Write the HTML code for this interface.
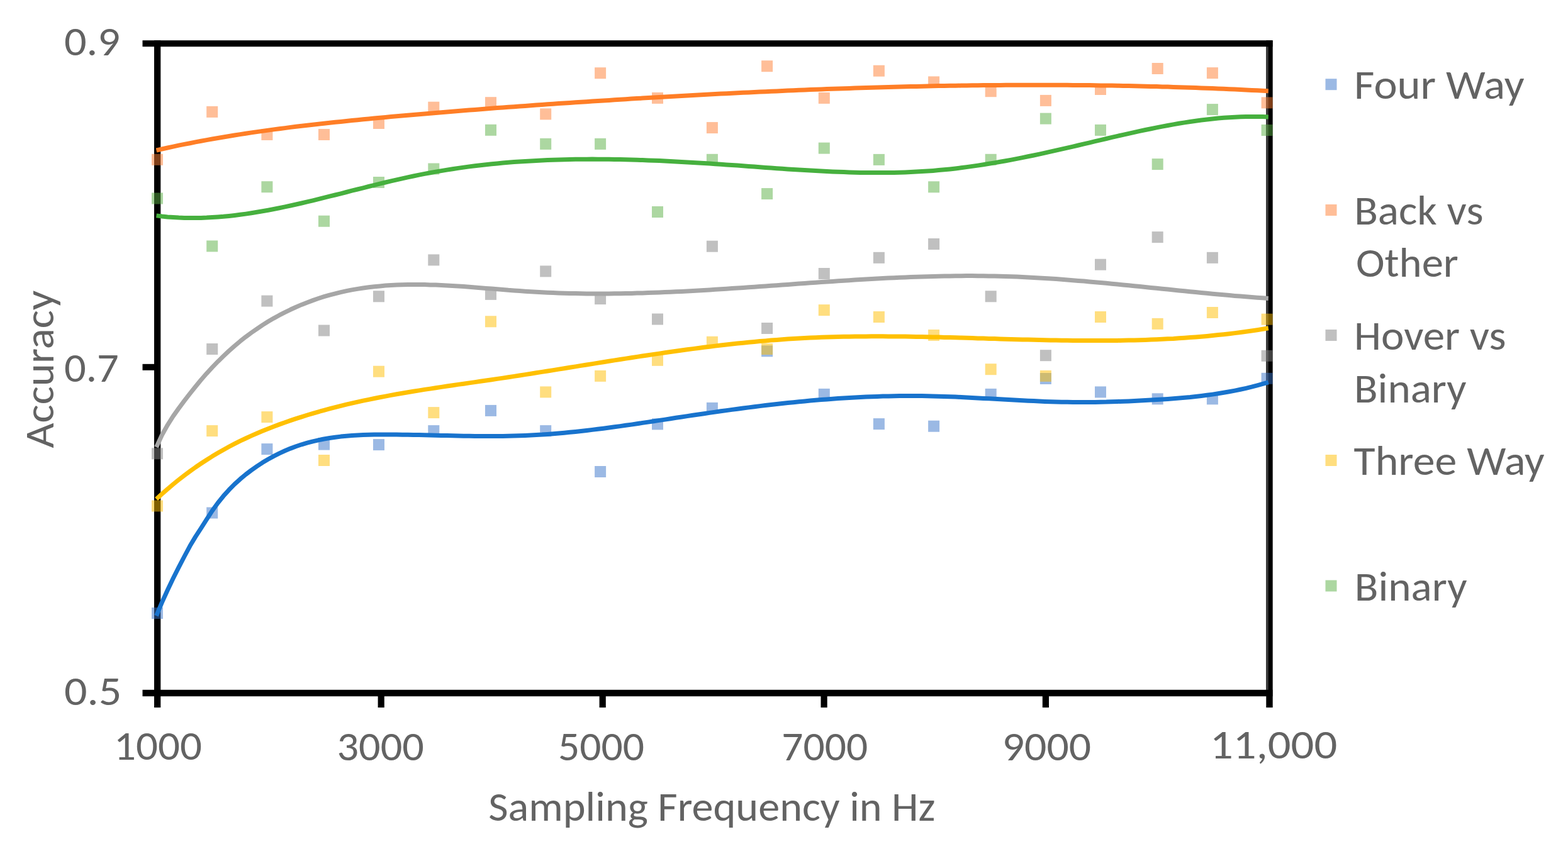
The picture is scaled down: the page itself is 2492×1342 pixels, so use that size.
<!DOCTYPE html><html><head><meta charset="utf-8"><style>html,body{margin:0;padding:0;background:#fff;width:2492px;height:1342px;overflow:hidden}svg{display:block}text{font-family:Carlito, "Liberation Sans", sans-serif;font-size-adjust:0.4775;white-space:pre}</style></head><body>
<svg width="2492" height="1342" viewBox="0 0 2492 1342">
<rect width="2492" height="1342" fill="#fff"/>
<rect x="226.5" y="64.2" width="1796" height="10" fill="#000"/>
<rect x="226.5" y="1096.8" width="1796" height="10.4" fill="#000"/>
<rect x="245" y="64.2" width="10.3" height="1060.8" fill="#000"/>
<rect x="2012.3" y="64.2" width="10.4" height="1060.8" fill="#000"/>
<rect x="2012.3" y="74.3" width="3.5" height="1022.5" fill="#3a3a3a"/>
<rect x="226.5" y="578.8" width="20" height="10" fill="#000"/>
<rect x="600.6" y="1100" width="10.2" height="25" fill="#000"/>
<rect x="952.6" y="1100" width="10.2" height="25" fill="#000"/>
<rect x="1304.5" y="1100" width="10.2" height="25" fill="#000"/>
<rect x="1656.8" y="1100" width="10.2" height="25" fill="#000"/>
<rect x="241.0" y="966.0" width="18" height="18" fill="#3773C9" fill-opacity="0.5"/>
<rect x="328.2" y="806.5" width="18" height="18" fill="#3773C9" fill-opacity="0.5"/>
<rect x="415.4" y="705.1" width="18" height="18" fill="#3773C9" fill-opacity="0.5"/>
<rect x="506.0" y="697.6" width="18" height="18" fill="#3773C9" fill-opacity="0.5"/>
<rect x="593.0" y="698.1" width="18" height="18" fill="#3773C9" fill-opacity="0.5"/>
<rect x="680.3" y="676.1" width="18" height="18" fill="#3773C9" fill-opacity="0.5"/>
<rect x="771.0" y="643.9" width="18" height="18" fill="#3773C9" fill-opacity="0.5"/>
<rect x="858.2" y="676.1" width="18" height="18" fill="#3773C9" fill-opacity="0.5"/>
<rect x="945.1" y="741.0" width="18" height="18" fill="#3773C9" fill-opacity="0.5"/>
<rect x="1036.0" y="665.4" width="18" height="18" fill="#3773C9" fill-opacity="0.5"/>
<rect x="1122.9" y="639.9" width="18" height="18" fill="#3773C9" fill-opacity="0.5"/>
<rect x="1210.1" y="549.3" width="18" height="18" fill="#3773C9" fill-opacity="0.5"/>
<rect x="1300.8" y="617.9" width="18" height="18" fill="#3773C9" fill-opacity="0.5"/>
<rect x="1387.9" y="665.1" width="18" height="18" fill="#3773C9" fill-opacity="0.5"/>
<rect x="1475.1" y="668.7" width="18" height="18" fill="#3773C9" fill-opacity="0.5"/>
<rect x="1565.7" y="617.9" width="18" height="18" fill="#3773C9" fill-opacity="0.5"/>
<rect x="1652.9" y="593.0" width="18" height="18" fill="#3773C9" fill-opacity="0.5"/>
<rect x="1740.0" y="614.4" width="18" height="18" fill="#3773C9" fill-opacity="0.5"/>
<rect x="1830.7" y="625.3" width="18" height="18" fill="#3773C9" fill-opacity="0.5"/>
<rect x="1917.9" y="625.3" width="18" height="18" fill="#3773C9" fill-opacity="0.5"/>
<rect x="2004.6" y="592.8" width="18" height="18" fill="#3773C9" fill-opacity="0.5"/>
<rect x="241.0" y="244.8" width="18" height="18" fill="#FF7D31" fill-opacity="0.5"/>
<rect x="328.2" y="168.9" width="18" height="18" fill="#FF7D31" fill-opacity="0.5"/>
<rect x="415.4" y="205.0" width="18" height="18" fill="#FF7D31" fill-opacity="0.5"/>
<rect x="506.0" y="205.0" width="18" height="18" fill="#FF7D31" fill-opacity="0.5"/>
<rect x="593.0" y="187.0" width="18" height="18" fill="#FF7D31" fill-opacity="0.5"/>
<rect x="680.3" y="161.7" width="18" height="18" fill="#FF7D31" fill-opacity="0.5"/>
<rect x="771.0" y="154.2" width="18" height="18" fill="#FF7D31" fill-opacity="0.5"/>
<rect x="858.2" y="172.4" width="18" height="18" fill="#FF7D31" fill-opacity="0.5"/>
<rect x="945.1" y="107.2" width="18" height="18" fill="#FF7D31" fill-opacity="0.5"/>
<rect x="1036.0" y="146.9" width="18" height="18" fill="#FF7D31" fill-opacity="0.5"/>
<rect x="1122.9" y="194.1" width="18" height="18" fill="#FF7D31" fill-opacity="0.5"/>
<rect x="1210.1" y="96.2" width="18" height="18" fill="#FF7D31" fill-opacity="0.5"/>
<rect x="1300.8" y="146.9" width="18" height="18" fill="#FF7D31" fill-opacity="0.5"/>
<rect x="1387.9" y="103.7" width="18" height="18" fill="#FF7D31" fill-opacity="0.5"/>
<rect x="1475.1" y="121.4" width="18" height="18" fill="#FF7D31" fill-opacity="0.5"/>
<rect x="1565.7" y="136.2" width="18" height="18" fill="#FF7D31" fill-opacity="0.5"/>
<rect x="1652.9" y="150.9" width="18" height="18" fill="#FF7D31" fill-opacity="0.5"/>
<rect x="1740.0" y="133.0" width="18" height="18" fill="#FF7D31" fill-opacity="0.5"/>
<rect x="1830.7" y="100.0" width="18" height="18" fill="#FF7D31" fill-opacity="0.5"/>
<rect x="1917.9" y="107.1" width="18" height="18" fill="#FF7D31" fill-opacity="0.5"/>
<rect x="2004.6" y="154.4" width="18" height="18" fill="#FF7D31" fill-opacity="0.5"/>
<rect x="241.0" y="712.3" width="18" height="18" fill="#818181" fill-opacity="0.5"/>
<rect x="328.2" y="546.0" width="18" height="18" fill="#818181" fill-opacity="0.5"/>
<rect x="415.4" y="469.6" width="18" height="18" fill="#818181" fill-opacity="0.5"/>
<rect x="506.0" y="516.5" width="18" height="18" fill="#818181" fill-opacity="0.5"/>
<rect x="593.0" y="462.3" width="18" height="18" fill="#818181" fill-opacity="0.5"/>
<rect x="680.3" y="404.4" width="18" height="18" fill="#818181" fill-opacity="0.5"/>
<rect x="771.0" y="458.9" width="18" height="18" fill="#818181" fill-opacity="0.5"/>
<rect x="858.2" y="422.4" width="18" height="18" fill="#818181" fill-opacity="0.5"/>
<rect x="945.1" y="466.1" width="18" height="18" fill="#818181" fill-opacity="0.5"/>
<rect x="1036.0" y="498.5" width="18" height="18" fill="#818181" fill-opacity="0.5"/>
<rect x="1122.9" y="382.7" width="18" height="18" fill="#818181" fill-opacity="0.5"/>
<rect x="1210.1" y="513.0" width="18" height="18" fill="#818181" fill-opacity="0.5"/>
<rect x="1300.8" y="426.0" width="18" height="18" fill="#818181" fill-opacity="0.5"/>
<rect x="1387.9" y="400.8" width="18" height="18" fill="#818181" fill-opacity="0.5"/>
<rect x="1475.1" y="379.0" width="18" height="18" fill="#818181" fill-opacity="0.5"/>
<rect x="1565.7" y="462.3" width="18" height="18" fill="#818181" fill-opacity="0.5"/>
<rect x="1652.9" y="556.2" width="18" height="18" fill="#818181" fill-opacity="0.5"/>
<rect x="1740.0" y="411.7" width="18" height="18" fill="#818181" fill-opacity="0.5"/>
<rect x="1830.7" y="368.1" width="18" height="18" fill="#818181" fill-opacity="0.5"/>
<rect x="1917.9" y="400.8" width="18" height="18" fill="#818181" fill-opacity="0.5"/>
<rect x="2004.6" y="556.8" width="18" height="18" fill="#818181" fill-opacity="0.5"/>
<rect x="241.0" y="795.5" width="18" height="18" fill="#FFBD00" fill-opacity="0.5"/>
<rect x="328.2" y="676.1" width="18" height="18" fill="#FFBD00" fill-opacity="0.5"/>
<rect x="415.4" y="654.1" width="18" height="18" fill="#FFBD00" fill-opacity="0.5"/>
<rect x="506.0" y="723.0" width="18" height="18" fill="#FFBD00" fill-opacity="0.5"/>
<rect x="593.0" y="581.7" width="18" height="18" fill="#FFBD00" fill-opacity="0.5"/>
<rect x="680.3" y="647.1" width="18" height="18" fill="#FFBD00" fill-opacity="0.5"/>
<rect x="771.0" y="502.3" width="18" height="18" fill="#FFBD00" fill-opacity="0.5"/>
<rect x="858.2" y="614.4" width="18" height="18" fill="#FFBD00" fill-opacity="0.5"/>
<rect x="945.1" y="588.9" width="18" height="18" fill="#FFBD00" fill-opacity="0.5"/>
<rect x="1036.0" y="563.8" width="18" height="18" fill="#FFBD00" fill-opacity="0.5"/>
<rect x="1122.9" y="534.8" width="18" height="18" fill="#FFBD00" fill-opacity="0.5"/>
<rect x="1210.1" y="546.0" width="18" height="18" fill="#FFBD00" fill-opacity="0.5"/>
<rect x="1300.8" y="484.1" width="18" height="18" fill="#FFBD00" fill-opacity="0.5"/>
<rect x="1387.9" y="495.0" width="18" height="18" fill="#FFBD00" fill-opacity="0.5"/>
<rect x="1475.1" y="524.0" width="18" height="18" fill="#FFBD00" fill-opacity="0.5"/>
<rect x="1565.7" y="578.2" width="18" height="18" fill="#FFBD00" fill-opacity="0.5"/>
<rect x="1652.9" y="588.9" width="18" height="18" fill="#FFBD00" fill-opacity="0.5"/>
<rect x="1740.0" y="495.0" width="18" height="18" fill="#FFBD00" fill-opacity="0.5"/>
<rect x="1830.7" y="505.9" width="18" height="18" fill="#FFBD00" fill-opacity="0.5"/>
<rect x="1917.9" y="488.0" width="18" height="18" fill="#FFBD00" fill-opacity="0.5"/>
<rect x="2004.6" y="498.7" width="18" height="18" fill="#FFBD00" fill-opacity="0.5"/>
<rect x="241.0" y="306.5" width="18" height="18" fill="#59AF43" fill-opacity="0.5"/>
<rect x="328.2" y="382.4" width="18" height="18" fill="#59AF43" fill-opacity="0.5"/>
<rect x="415.4" y="288.2" width="18" height="18" fill="#59AF43" fill-opacity="0.5"/>
<rect x="506.0" y="342.7" width="18" height="18" fill="#59AF43" fill-opacity="0.5"/>
<rect x="593.0" y="281.0" width="18" height="18" fill="#59AF43" fill-opacity="0.5"/>
<rect x="680.3" y="259.5" width="18" height="18" fill="#59AF43" fill-opacity="0.5"/>
<rect x="771.0" y="197.8" width="18" height="18" fill="#59AF43" fill-opacity="0.5"/>
<rect x="858.2" y="219.9" width="18" height="18" fill="#59AF43" fill-opacity="0.5"/>
<rect x="945.1" y="219.9" width="18" height="18" fill="#59AF43" fill-opacity="0.5"/>
<rect x="1036.0" y="328.0" width="18" height="18" fill="#59AF43" fill-opacity="0.5"/>
<rect x="1122.9" y="244.8" width="18" height="18" fill="#59AF43" fill-opacity="0.5"/>
<rect x="1210.1" y="299.1" width="18" height="18" fill="#59AF43" fill-opacity="0.5"/>
<rect x="1300.8" y="226.6" width="18" height="18" fill="#59AF43" fill-opacity="0.5"/>
<rect x="1387.9" y="244.9" width="18" height="18" fill="#59AF43" fill-opacity="0.5"/>
<rect x="1475.1" y="288.3" width="18" height="18" fill="#59AF43" fill-opacity="0.5"/>
<rect x="1565.7" y="244.8" width="18" height="18" fill="#59AF43" fill-opacity="0.5"/>
<rect x="1652.9" y="179.6" width="18" height="18" fill="#59AF43" fill-opacity="0.5"/>
<rect x="1740.0" y="197.9" width="18" height="18" fill="#59AF43" fill-opacity="0.5"/>
<rect x="1830.7" y="252.1" width="18" height="18" fill="#59AF43" fill-opacity="0.5"/>
<rect x="1917.9" y="165.1" width="18" height="18" fill="#59AF43" fill-opacity="0.5"/>
<rect x="2004.6" y="198.0" width="18" height="18" fill="#59AF43" fill-opacity="0.5"/>
<path d="M248.5,979.1 L257.4,957.9 L266.3,938.2 L275.1,919.8 L284.0,902.1 L292.9,885.0 L301.8,868.3 L310.7,853.4 L319.5,839.9 L328.4,825.8 L337.3,812.1 L346.2,799.7 L355.1,788.7 L364.0,778.8 L372.8,769.9 L381.7,761.8 L390.6,754.4 L399.5,747.6 L408.4,741.4 L417.2,735.6 L426.1,730.3 L435.0,725.4 L443.9,720.9 L452.8,716.8 L461.6,713.1 L470.5,709.8 L479.4,706.8 L488.3,704.2 L497.2,701.8 L506.0,699.8 L514.9,698.0 L523.8,696.5 L532.7,695.2 L541.6,694.1 L550.5,693.2 L559.3,692.5 L568.2,692.0 L577.1,691.6 L586.0,691.3 L594.9,691.1 L603.7,691.0 L612.6,691.0 L621.5,691.0 L630.4,691.1 L639.3,691.2 L648.1,691.3 L657.0,691.4 L665.9,691.6 L674.8,691.8 L683.7,692.0 L692.5,692.2 L701.4,692.4 L710.3,692.6 L719.2,692.8 L728.1,693.0 L736.9,693.2 L745.8,693.3 L754.7,693.4 L763.6,693.5 L772.5,693.6 L781.4,693.6 L790.2,693.5 L799.1,693.4 L808.0,693.3 L816.9,693.1 L825.8,692.8 L834.6,692.5 L843.5,692.1 L852.4,691.6 L861.3,691.1 L870.2,690.4 L879.0,689.8 L887.9,689.0 L896.8,688.2 L905.7,687.3 L914.6,686.4 L923.4,685.5 L932.3,684.5 L941.2,683.4 L950.1,682.3 L959.0,681.2 L967.9,680.0 L976.7,678.8 L985.6,677.6 L994.5,676.3 L1003.4,675.1 L1012.3,673.8 L1021.1,672.4 L1030.0,671.1 L1038.9,669.8 L1047.8,668.4 L1056.7,667.1 L1065.5,665.7 L1074.4,664.3 L1083.3,663.0 L1092.2,661.6 L1101.1,660.3 L1109.9,659.0 L1118.8,657.7 L1127.7,656.4 L1136.6,655.1 L1145.5,653.8 L1154.4,652.6 L1163.2,651.4 L1172.1,650.2 L1181.0,649.0 L1189.9,647.9 L1198.8,646.7 L1207.6,645.6 L1216.5,644.6 L1225.4,643.5 L1234.3,642.5 L1243.2,641.5 L1252.0,640.6 L1260.9,639.7 L1269.8,638.8 L1278.7,637.9 L1287.6,637.1 L1296.4,636.3 L1305.3,635.6 L1314.2,634.9 L1323.1,634.2 L1332.0,633.6 L1340.9,633.0 L1349.7,632.5 L1358.6,632.0 L1367.5,631.5 L1376.4,631.1 L1385.3,630.7 L1394.1,630.4 L1403.0,630.1 L1411.9,629.9 L1420.8,629.7 L1429.7,629.6 L1438.5,629.5 L1447.4,629.5 L1456.3,629.5 L1465.2,629.6 L1474.1,629.7 L1482.9,629.9 L1491.8,630.2 L1500.7,630.4 L1509.6,630.8 L1518.5,631.1 L1527.4,631.5 L1536.2,632.0 L1545.1,632.4 L1554.0,632.9 L1562.9,633.4 L1571.8,633.8 L1580.6,634.3 L1589.5,634.8 L1598.4,635.3 L1607.3,635.8 L1616.2,636.3 L1625.0,636.8 L1633.9,637.2 L1642.8,637.6 L1651.7,638.0 L1660.6,638.4 L1669.4,638.7 L1678.3,638.9 L1687.2,639.2 L1696.1,639.3 L1705.0,639.5 L1713.8,639.5 L1722.7,639.5 L1731.6,639.5 L1740.5,639.4 L1749.4,639.2 L1758.3,639.1 L1767.1,638.8 L1776.0,638.5 L1784.9,638.2 L1793.8,637.9 L1802.7,637.5 L1811.5,637.0 L1820.4,636.6 L1829.3,636.1 L1838.2,635.5 L1847.1,635.0 L1855.9,634.4 L1864.8,633.7 L1873.7,633.0 L1882.6,632.2 L1891.5,631.4 L1900.3,630.4 L1909.2,629.4 L1918.1,628.3 L1927.0,627.1 L1935.9,625.8 L1944.8,624.3 L1953.6,622.8 L1962.5,621.1 L1971.4,619.3 L1980.3,617.3 L1989.2,615.2 L1998.0,612.9 L2006.9,610.4 L2015.8,607.8" fill="none" stroke="#1873CD" stroke-width="7" stroke-linejoin="round"/>
<path d="M248.5,239.0 L257.4,237.0 L266.3,235.0 L275.1,233.1 L284.0,231.2 L292.9,229.4 L301.8,227.7 L310.7,225.9 L319.5,224.3 L328.4,222.6 L337.3,221.0 L346.2,219.5 L355.1,218.0 L364.0,216.5 L372.8,215.0 L381.7,213.6 L390.6,212.3 L399.5,210.9 L408.4,209.6 L417.2,208.4 L426.1,207.1 L435.0,205.9 L443.9,204.7 L452.8,203.6 L461.6,202.4 L470.5,201.3 L479.4,200.3 L488.3,199.2 L497.2,198.2 L506.0,197.2 L514.9,196.2 L523.8,195.2 L532.7,194.3 L541.6,193.4 L550.5,192.4 L559.3,191.6 L568.2,190.7 L577.1,189.8 L586.0,188.9 L594.9,188.1 L603.7,187.3 L612.6,186.4 L621.5,185.6 L630.4,184.8 L639.3,184.0 L648.1,183.2 L657.0,182.5 L665.9,181.7 L674.8,180.9 L683.7,180.2 L692.5,179.4 L701.4,178.7 L710.3,177.9 L719.2,177.2 L728.1,176.5 L736.9,175.8 L745.8,175.1 L754.7,174.4 L763.6,173.7 L772.5,173.0 L781.4,172.3 L790.2,171.6 L799.1,171.0 L808.0,170.3 L816.9,169.7 L825.8,169.0 L834.6,168.4 L843.5,167.7 L852.4,167.1 L861.3,166.5 L870.2,165.8 L879.0,165.2 L887.9,164.6 L896.8,164.0 L905.7,163.4 L914.6,162.8 L923.4,162.2 L932.3,161.7 L941.2,161.1 L950.1,160.5 L959.0,159.9 L967.9,159.4 L976.7,158.8 L985.6,158.2 L994.5,157.7 L1003.4,157.1 L1012.3,156.6 L1021.1,156.1 L1030.0,155.5 L1038.9,155.0 L1047.8,154.5 L1056.7,154.0 L1065.5,153.5 L1074.4,152.9 L1083.3,152.4 L1092.2,152.0 L1101.1,151.5 L1109.9,151.0 L1118.8,150.5 L1127.7,150.0 L1136.6,149.6 L1145.5,149.1 L1154.4,148.7 L1163.2,148.2 L1172.1,147.8 L1181.0,147.3 L1189.9,146.9 L1198.8,146.5 L1207.6,146.1 L1216.5,145.7 L1225.4,145.3 L1234.3,144.9 L1243.2,144.5 L1252.0,144.1 L1260.9,143.7 L1269.8,143.3 L1278.7,143.0 L1287.6,142.6 L1296.4,142.3 L1305.3,142.0 L1314.2,141.6 L1323.1,141.3 L1332.0,141.0 L1340.9,140.7 L1349.7,140.4 L1358.6,140.1 L1367.5,139.8 L1376.4,139.5 L1385.3,139.2 L1394.1,139.0 L1403.0,138.7 L1411.9,138.5 L1420.8,138.2 L1429.7,138.0 L1438.5,137.8 L1447.4,137.6 L1456.3,137.4 L1465.2,137.2 L1474.1,137.0 L1482.9,136.8 L1491.8,136.6 L1500.7,136.5 L1509.6,136.3 L1518.5,136.2 L1527.4,136.1 L1536.2,135.9 L1545.1,135.8 L1554.0,135.7 L1562.9,135.6 L1571.8,135.5 L1580.6,135.4 L1589.5,135.4 L1598.4,135.3 L1607.3,135.3 L1616.2,135.2 L1625.0,135.2 L1633.9,135.2 L1642.8,135.2 L1651.7,135.2 L1660.6,135.2 L1669.4,135.2 L1678.3,135.2 L1687.2,135.3 L1696.1,135.3 L1705.0,135.4 L1713.8,135.5 L1722.7,135.5 L1731.6,135.6 L1740.5,135.7 L1749.4,135.9 L1758.3,136.0 L1767.1,136.1 L1776.0,136.3 L1784.9,136.4 L1793.8,136.6 L1802.7,136.8 L1811.5,137.0 L1820.4,137.2 L1829.3,137.4 L1838.2,137.6 L1847.1,137.9 L1855.9,138.1 L1864.8,138.4 L1873.7,138.7 L1882.6,139.0 L1891.5,139.3 L1900.3,139.6 L1909.2,139.9 L1918.1,140.2 L1927.0,140.6 L1935.9,140.9 L1944.8,141.3 L1953.6,141.7 L1962.5,142.1 L1971.4,142.5 L1980.3,142.9 L1989.2,143.4 L1998.0,143.8 L2006.9,144.3 L2015.8,144.7" fill="none" stroke="#FF7E26" stroke-width="7" stroke-linejoin="round"/>
<path d="M248.5,710.9 L257.4,691.8 L266.3,675.8 L275.1,661.9 L284.0,649.4 L292.9,637.4 L301.8,625.8 L310.7,614.7 L319.5,604.0 L328.4,593.8 L337.3,584.1 L346.2,574.9 L355.1,566.2 L364.0,557.9 L372.8,550.1 L381.7,542.6 L390.6,535.6 L399.5,529.0 L408.4,522.8 L417.2,516.9 L426.1,511.3 L435.0,506.1 L443.9,501.2 L452.8,496.6 L461.6,492.3 L470.5,488.2 L479.4,484.4 L488.3,480.9 L497.2,477.6 L506.0,474.5 L514.9,471.7 L523.8,469.1 L532.7,466.8 L541.6,464.6 L550.5,462.7 L559.3,460.9 L568.2,459.4 L577.1,458.0 L586.0,456.8 L594.9,455.7 L603.7,454.9 L612.6,454.1 L621.5,453.5 L630.4,453.1 L639.3,452.8 L648.1,452.6 L657.0,452.5 L665.9,452.5 L674.8,452.6 L683.7,452.9 L692.5,453.1 L701.4,453.5 L710.3,454.0 L719.2,454.5 L728.1,455.0 L736.9,455.6 L745.8,456.3 L754.7,457.0 L763.6,457.7 L772.5,458.4 L781.4,459.1 L790.2,459.8 L799.1,460.5 L808.0,461.3 L816.9,461.9 L825.8,462.6 L834.6,463.2 L843.5,463.8 L852.4,464.3 L861.3,464.8 L870.2,465.2 L879.0,465.6 L887.9,465.9 L896.8,466.2 L905.7,466.4 L914.6,466.6 L923.4,466.8 L932.3,466.9 L941.2,467.0 L950.1,467.0 L959.0,467.0 L967.9,466.9 L976.7,466.8 L985.6,466.7 L994.5,466.5 L1003.4,466.4 L1012.3,466.1 L1021.1,465.9 L1030.0,465.6 L1038.9,465.3 L1047.8,465.0 L1056.7,464.6 L1065.5,464.2 L1074.4,463.8 L1083.3,463.4 L1092.2,462.9 L1101.1,462.4 L1109.9,461.9 L1118.8,461.4 L1127.7,460.9 L1136.6,460.3 L1145.5,459.8 L1154.4,459.2 L1163.2,458.6 L1172.1,458.0 L1181.0,457.4 L1189.9,456.8 L1198.8,456.2 L1207.6,455.6 L1216.5,454.9 L1225.4,454.3 L1234.3,453.7 L1243.2,453.0 L1252.0,452.4 L1260.9,451.7 L1269.8,451.1 L1278.7,450.5 L1287.6,449.8 L1296.4,449.2 L1305.3,448.6 L1314.2,448.0 L1323.1,447.4 L1332.0,446.8 L1340.9,446.2 L1349.7,445.7 L1358.6,445.1 L1367.5,444.6 L1376.4,444.0 L1385.3,443.5 L1394.1,443.0 L1403.0,442.6 L1411.9,442.1 L1420.8,441.7 L1429.7,441.3 L1438.5,440.9 L1447.4,440.6 L1456.3,440.2 L1465.2,439.9 L1474.1,439.7 L1482.9,439.4 L1491.8,439.2 L1500.7,439.0 L1509.6,438.9 L1518.5,438.8 L1527.4,438.7 L1536.2,438.6 L1545.1,438.6 L1554.0,438.7 L1562.9,438.8 L1571.8,438.9 L1580.6,439.0 L1589.5,439.3 L1598.4,439.5 L1607.3,439.8 L1616.2,440.1 L1625.0,440.5 L1633.9,441.0 L1642.8,441.4 L1651.7,441.9 L1660.6,442.5 L1669.4,443.0 L1678.3,443.6 L1687.2,444.3 L1696.1,445.0 L1705.0,445.7 L1713.8,446.4 L1722.7,447.1 L1731.6,447.9 L1740.5,448.7 L1749.4,449.5 L1758.3,450.3 L1767.1,451.2 L1776.0,452.0 L1784.9,452.9 L1793.8,453.8 L1802.7,454.7 L1811.5,455.6 L1820.4,456.5 L1829.3,457.4 L1838.2,458.3 L1847.1,459.2 L1855.9,460.1 L1864.8,461.0 L1873.7,461.9 L1882.6,462.8 L1891.5,463.7 L1900.3,464.6 L1909.2,465.5 L1918.1,466.3 L1927.0,467.2 L1935.9,468.0 L1944.8,468.8 L1953.6,469.6 L1962.5,470.4 L1971.4,471.1 L1980.3,471.8 L1989.2,472.5 L1998.0,473.2 L2006.9,473.8 L2015.8,474.4" fill="none" stroke="#A6A6A6" stroke-width="7" stroke-linejoin="round"/>
<path d="M248.5,793.5 L257.4,785.4 L266.3,777.6 L275.1,770.1 L284.0,762.9 L292.9,756.0 L301.8,749.4 L310.7,743.0 L319.5,737.0 L328.4,731.2 L337.3,725.6 L346.2,720.3 L355.1,715.2 L364.0,710.3 L372.8,705.7 L381.7,701.2 L390.6,697.0 L399.5,692.9 L408.4,689.0 L417.2,685.3 L426.1,681.7 L435.0,678.2 L443.9,674.9 L452.8,671.7 L461.6,668.6 L470.5,665.6 L479.4,662.8 L488.3,660.0 L497.2,657.3 L506.0,654.8 L514.9,652.3 L523.8,649.9 L532.7,647.6 L541.6,645.4 L550.5,643.2 L559.3,641.1 L568.2,639.1 L577.1,637.2 L586.0,635.3 L594.9,633.5 L603.7,631.8 L612.6,630.1 L621.5,628.4 L630.4,626.8 L639.3,625.3 L648.1,623.8 L657.0,622.3 L665.9,620.9 L674.8,619.4 L683.7,618.1 L692.5,616.7 L701.4,615.4 L710.3,614.0 L719.2,612.7 L728.1,611.4 L736.9,610.2 L745.8,608.9 L754.7,607.6 L763.6,606.3 L772.5,605.0 L781.4,603.7 L790.2,602.4 L799.1,601.1 L808.0,599.7 L816.9,598.4 L825.8,597.0 L834.6,595.6 L843.5,594.2 L852.4,592.8 L861.3,591.4 L870.2,590.0 L879.0,588.6 L887.9,587.1 L896.8,585.7 L905.7,584.3 L914.6,582.9 L923.4,581.4 L932.3,580.0 L941.2,578.6 L950.1,577.1 L959.0,575.7 L967.9,574.3 L976.7,572.9 L985.6,571.5 L994.5,570.1 L1003.4,568.8 L1012.3,567.4 L1021.1,566.0 L1030.0,564.7 L1038.9,563.4 L1047.8,562.1 L1056.7,560.8 L1065.5,559.5 L1074.4,558.3 L1083.3,557.0 L1092.2,555.8 L1101.1,554.6 L1109.9,553.5 L1118.8,552.3 L1127.7,551.2 L1136.6,550.1 L1145.5,549.1 L1154.4,548.1 L1163.2,547.1 L1172.1,546.1 L1181.0,545.2 L1189.9,544.3 L1198.8,543.5 L1207.6,542.6 L1216.5,541.9 L1225.4,541.1 L1234.3,540.4 L1243.2,539.7 L1252.0,539.1 L1260.9,538.6 L1269.8,538.0 L1278.7,537.5 L1287.6,537.1 L1296.4,536.7 L1305.3,536.3 L1314.2,536.0 L1323.1,535.8 L1332.0,535.5 L1340.9,535.3 L1349.7,535.2 L1358.6,535.0 L1367.5,534.9 L1376.4,534.9 L1385.3,534.8 L1394.1,534.8 L1403.0,534.8 L1411.9,534.9 L1420.8,534.9 L1429.7,535.0 L1438.5,535.1 L1447.4,535.3 L1456.3,535.4 L1465.2,535.6 L1474.1,535.7 L1482.9,535.9 L1491.8,536.1 L1500.7,536.4 L1509.6,536.6 L1518.5,536.8 L1527.4,537.1 L1536.2,537.3 L1545.1,537.6 L1554.0,537.9 L1562.9,538.1 L1571.8,538.4 L1580.6,538.6 L1589.5,538.9 L1598.4,539.2 L1607.3,539.4 L1616.2,539.7 L1625.0,539.9 L1633.9,540.1 L1642.8,540.3 L1651.7,540.5 L1660.6,540.7 L1669.4,540.9 L1678.3,541.1 L1687.2,541.2 L1696.1,541.3 L1705.0,541.4 L1713.8,541.5 L1722.7,541.6 L1731.6,541.6 L1740.5,541.6 L1749.4,541.6 L1758.3,541.6 L1767.1,541.5 L1776.0,541.4 L1784.9,541.3 L1793.8,541.1 L1802.7,540.9 L1811.5,540.7 L1820.4,540.4 L1829.3,540.1 L1838.2,539.7 L1847.1,539.3 L1855.9,538.8 L1864.8,538.4 L1873.7,537.8 L1882.6,537.2 L1891.5,536.6 L1900.3,535.9 L1909.2,535.2 L1918.1,534.4 L1927.0,533.5 L1935.9,532.6 L1944.8,531.7 L1953.6,530.7 L1962.5,529.6 L1971.4,528.5 L1980.3,527.3 L1989.2,526.0 L1998.0,524.7 L2006.9,523.3 L2015.8,521.8" fill="none" stroke="#FFC000" stroke-width="7" stroke-linejoin="round"/>
<path d="M248.5,342.9 L257.4,344.0 L266.3,344.9 L275.1,345.5 L284.0,346.1 L292.9,346.4 L301.8,346.5 L310.7,346.5 L319.5,346.4 L328.4,346.1 L337.3,345.6 L346.2,345.0 L355.1,344.3 L364.0,343.4 L372.8,342.4 L381.7,341.3 L390.6,340.1 L399.5,338.7 L408.4,337.3 L417.2,335.8 L426.1,334.2 L435.0,332.5 L443.9,330.7 L452.8,328.9 L461.6,327.0 L470.5,325.0 L479.4,323.0 L488.3,320.9 L497.2,318.8 L506.0,316.6 L514.9,314.4 L523.8,312.2 L532.7,310.0 L541.6,307.8 L550.5,305.5 L559.3,303.2 L568.2,301.0 L577.1,298.8 L586.0,296.5 L594.9,294.3 L603.7,292.2 L612.6,290.0 L621.5,287.9 L630.4,285.8 L639.3,283.8 L648.1,281.9 L657.0,280.0 L665.9,278.1 L674.8,276.4 L683.7,274.7 L692.5,273.1 L701.4,271.6 L710.3,270.1 L719.2,268.7 L728.1,267.4 L736.9,266.1 L745.8,264.9 L754.7,263.8 L763.6,262.7 L772.5,261.7 L781.4,260.8 L790.2,259.9 L799.1,259.1 L808.0,258.3 L816.9,257.6 L825.8,257.0 L834.6,256.4 L843.5,255.9 L852.4,255.4 L861.3,254.9 L870.2,254.5 L879.0,254.2 L887.9,253.9 L896.8,253.7 L905.7,253.5 L914.6,253.3 L923.4,253.2 L932.3,253.2 L941.2,253.1 L950.1,253.2 L959.0,253.2 L967.9,253.3 L976.7,253.4 L985.6,253.6 L994.5,253.8 L1003.4,254.0 L1012.3,254.3 L1021.1,254.6 L1030.0,254.9 L1038.9,255.3 L1047.8,255.6 L1056.7,256.0 L1065.5,256.5 L1074.4,256.9 L1083.3,257.4 L1092.2,257.9 L1101.1,258.4 L1109.9,258.9 L1118.8,259.5 L1127.7,260.1 L1136.6,260.7 L1145.5,261.3 L1154.4,261.9 L1163.2,262.5 L1172.1,263.1 L1181.0,263.8 L1189.9,264.4 L1198.8,265.1 L1207.6,265.7 L1216.5,266.4 L1225.4,267.0 L1234.3,267.7 L1243.2,268.3 L1252.0,268.9 L1260.9,269.5 L1269.8,270.1 L1278.7,270.6 L1287.6,271.1 L1296.4,271.6 L1305.3,272.1 L1314.2,272.5 L1323.1,272.9 L1332.0,273.3 L1340.9,273.6 L1349.7,273.9 L1358.6,274.2 L1367.5,274.4 L1376.4,274.5 L1385.3,274.6 L1394.1,274.6 L1403.0,274.6 L1411.9,274.5 L1420.8,274.4 L1429.7,274.2 L1438.5,273.9 L1447.4,273.5 L1456.3,273.1 L1465.2,272.6 L1474.1,272.0 L1482.9,271.4 L1491.8,270.6 L1500.7,269.8 L1509.6,268.9 L1518.5,267.9 L1527.4,266.8 L1536.2,265.6 L1545.1,264.4 L1554.0,263.1 L1562.9,261.8 L1571.8,260.3 L1580.6,258.9 L1589.5,257.3 L1598.4,255.7 L1607.3,254.1 L1616.2,252.4 L1625.0,250.6 L1633.9,248.8 L1642.8,247.0 L1651.7,245.1 L1660.6,243.2 L1669.4,241.2 L1678.3,239.2 L1687.2,237.2 L1696.1,235.2 L1705.0,233.1 L1713.8,231.0 L1722.7,228.9 L1731.6,226.8 L1740.5,224.7 L1749.4,222.6 L1758.3,220.5 L1767.1,218.4 L1776.0,216.4 L1784.9,214.3 L1793.8,212.3 L1802.7,210.4 L1811.5,208.4 L1820.4,206.5 L1829.3,204.7 L1838.2,202.9 L1847.1,201.1 L1855.9,199.5 L1864.8,197.9 L1873.7,196.3 L1882.6,194.9 L1891.5,193.5 L1900.3,192.2 L1909.2,191.0 L1918.1,190.0 L1927.0,189.0 L1935.9,188.1 L1944.8,187.3 L1953.6,186.7 L1962.5,186.2 L1971.4,185.8 L1980.3,185.5 L1989.2,185.4 L1998.0,185.4 L2006.9,185.6 L2015.8,185.9" fill="none" stroke="#46B03E" stroke-width="7" stroke-linejoin="round"/>
<text id="y09" x="102.0" y="87.7" font-size="66.5" textLength="89.0" lengthAdjust="spacingAndGlyphs" fill="#636363">0.9</text>
<text id="y07" x="102.0" y="606.7" font-size="66.5" textLength="86.9" lengthAdjust="spacingAndGlyphs" fill="#636363">0.7</text>
<text id="y05" x="102.0" y="1121.2" font-size="66.5" textLength="91.3" lengthAdjust="spacingAndGlyphs" fill="#636363">0.5</text>
<text id="x1000" x="181.0" y="1207.5" font-size="66.5" textLength="140.1" lengthAdjust="spacingAndGlyphs" fill="#636363">1000</text>
<text id="x3000" x="535.5" y="1208.6" font-size="66.5" textLength="138.5" lengthAdjust="spacingAndGlyphs" fill="#636363">3000</text>
<text id="x5000" x="887.0" y="1208.6" font-size="66.5" textLength="136.9" lengthAdjust="spacingAndGlyphs" fill="#636363">5000</text>
<text id="x7000" x="1242.3" y="1208.6" font-size="66.5" textLength="136.9" lengthAdjust="spacingAndGlyphs" fill="#636363">7000</text>
<text id="x9000" x="1592.7" y="1208.6" font-size="66.5" textLength="141.4" lengthAdjust="spacingAndGlyphs" fill="#636363">9000</text>
<text id="x11000" x="1923.0" y="1205.7" font-size="66.5" textLength="202.2" lengthAdjust="spacingAndGlyphs" fill="#636363">11,000</text>
<text id="xtitle" x="776.2" y="1305.2" font-size="66.5" textLength="710.4" lengthAdjust="spacingAndGlyphs" fill="#636363">Sampling Frequency in Hz</text>
<text id="ytitle" x="85.5" y="712.4" font-size="66.5" textLength="250.6" lengthAdjust="spacingAndGlyphs" transform="rotate(-90 85.5 712.4)" fill="#636363">Accuracy</text>
<rect x="2106.5" y="125.2" width="18" height="18" fill="#3773C9" fill-opacity="0.5"/>
<text id="leg0a" x="2152.0" y="157.1" font-size="66.5" textLength="270.6" lengthAdjust="spacingAndGlyphs" fill="#636363">Four Way</text>
<rect x="2106.5" y="325.0" width="18" height="18" fill="#FF7D31" fill-opacity="0.5"/>
<text id="leg1a" x="2152.2" y="357.0" font-size="66.5" textLength="205.3" lengthAdjust="spacingAndGlyphs" fill="#636363">Back vs</text>
<text id="leg1b" x="2155.0" y="440.4" font-size="66.5" textLength="162.8" lengthAdjust="spacingAndGlyphs" fill="#636363">Other</text>
<rect x="2106.5" y="524.0" width="18" height="18" fill="#818181" fill-opacity="0.5"/>
<text id="leg2a" x="2152.0" y="555.5" font-size="66.5" textLength="241.6" lengthAdjust="spacingAndGlyphs" fill="#636363">Hover vs</text>
<text id="leg2b" x="2152.0" y="639.8" font-size="66.5" textLength="178.5" lengthAdjust="spacingAndGlyphs" fill="#636363">Binary</text>
<rect x="2106.5" y="723.0" width="18" height="18" fill="#FFBD00" fill-opacity="0.5"/>
<text id="leg3a" x="2151.6" y="754.5" font-size="66.5" textLength="303.1" lengthAdjust="spacingAndGlyphs" fill="#636363">Three Way</text>
<rect x="2106.5" y="922.5" width="18" height="18" fill="#59AF43" fill-opacity="0.5"/>
<text id="leg4a" x="2152.8" y="954.5" font-size="66.5" textLength="178.7" lengthAdjust="spacingAndGlyphs" fill="#636363">Binary</text>
</svg></body></html>
